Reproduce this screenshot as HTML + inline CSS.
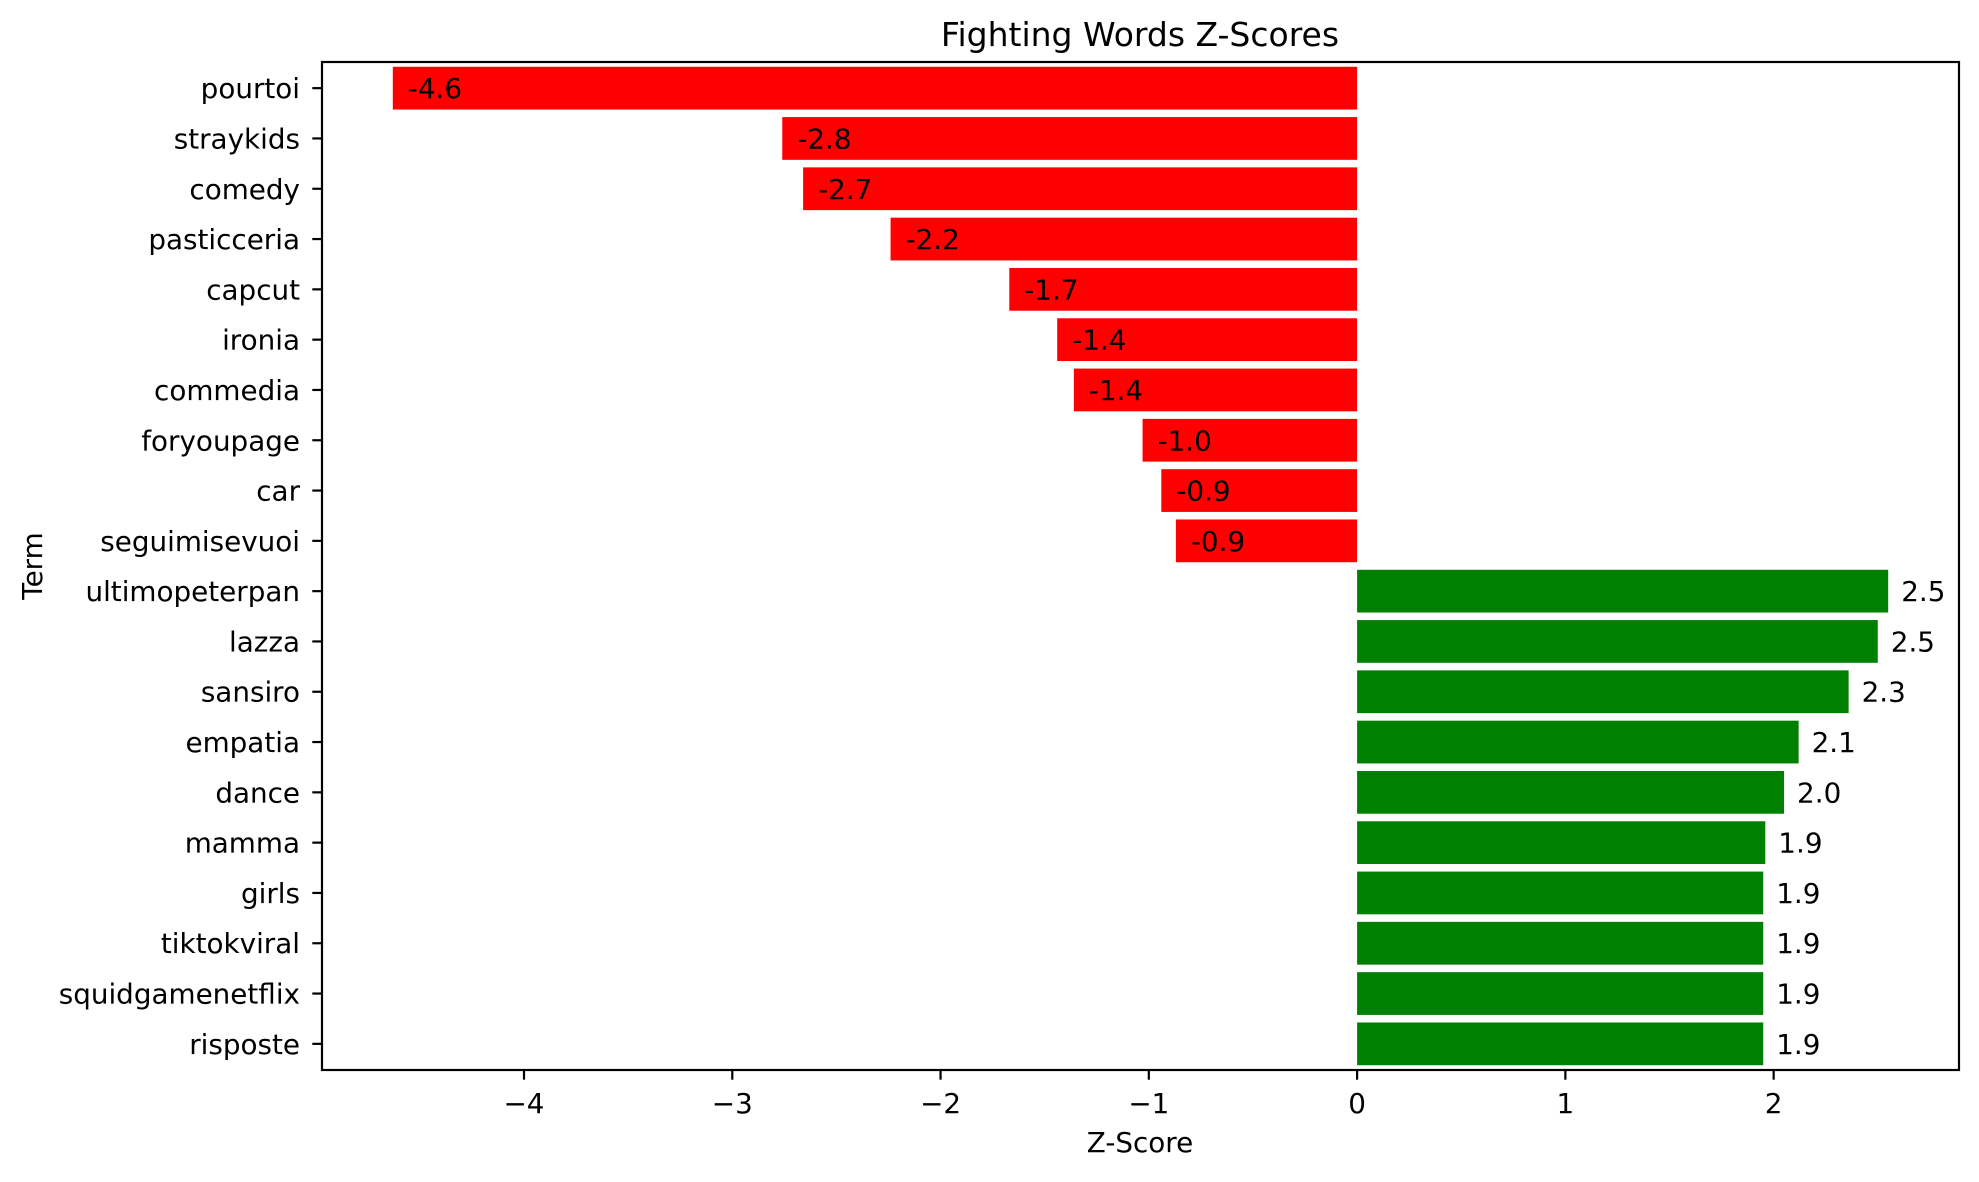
<!DOCTYPE html>
<html><head><meta charset="utf-8"><style>
html,body{margin:0;padding:0;background:#fff;}
svg text{font-family:"DejaVu Sans","Liberation Sans",sans-serif;fill:#000;}
</style></head><body>
<svg id="chart" width="1979" height="1177" xmlns="http://www.w3.org/2000/svg">
<rect width="1979" height="1177" fill="#fff"/>
<g id="bars"></g>
<g id="xaxis"></g>
<g id="yaxis"></g>
<rect x="322" y="62" width="1637" height="1008" fill="none" stroke="#000" stroke-width="2.2"/>
<text x="1140" y="46" font-size="33" text-anchor="middle">Fighting Words Z-Scores</text>
<text x="1140" y="1152" font-size="27.8" text-anchor="middle">Z-Score</text>
<text x="42" y="566" font-size="27.8" text-anchor="middle" transform="rotate(-90 42 566)">Term</text>
</svg>
<script>
const terms = ["pourtoi","straykids","comedy","pasticceria","capcut","ironia","commedia","foryoupage","car","seguimisevuoi","ultimopeterpan","lazza","sansiro","empatia","dance","mamma","girls","tiktokviral","squidgamenetflix","risposte"];
const zscores = [-4.63,-2.76,-2.66,-2.24,-1.67,-1.44,-1.36,-1.03,-0.94,-0.87,2.55,2.50,2.36,2.12,2.05,1.96,1.95,1.95,1.95,1.95];
const valueLabels = ["-4.6","-2.8","-2.7","-2.2","-1.7","-1.4","-1.4","-1.0","-0.9","-0.9","2.5","2.5","2.3","2.1","2.0","1.9","1.9","1.9","1.9","1.9"];
const xTicks = [-4,-3,-2,-1,0,1,2];
const xTickLabels = ["\u22124","\u22123","\u22122","\u22121","0","1","2"];

const NS="http://www.w3.org/2000/svg";
const L=322,R=1959,T=62,B=1070;
const xmin=-4.97,xmax=2.89;
const X=v=>L+(v-xmin)/(xmax-xmin)*(R-L);
const n=terms.length;
const ymin=-0.52,ymax=n-1+0.52;
const Y=i=>T+(i-ymin)/(ymax-ymin)*(B-T);
const bh=0.85*(Y(1)-Y(0));
function mk(tag,attrs,parent){const e=document.createElementNS(NS,tag);for(const k in attrs)e.setAttribute(k,attrs[k]);parent.appendChild(e);return e;}
const gb=document.getElementById('bars'),gx=document.getElementById('xaxis'),gy=document.getElementById('yaxis');
terms.forEach((t,i)=>{
  const v=zscores[i],x0=Math.min(X(0),X(v)),w=Math.abs(X(v)-X(0));
  const r=mk('rect',{x:x0,y:Y(i)-bh/2,width:w,height:bh,fill:v<0?'#ff0000':'#008000'},gb);
  
  
  const tx=v<0?X(v)+15:X(v)+13;
  const lb=mk('text',{x:tx,y:Y(i)+10,'font-size':'27.8'},gb);
  lb.textContent=valueLabels[i];
  
  
  const tk=mk('line',{x1:L-9.7,x2:L,y1:Y(i),y2:Y(i),stroke:'#000','stroke-width':2.2},gy);
  
  
  const tl=mk('text',{x:L-22,y:Y(i)+10,'font-size':'27.8','text-anchor':'end'},gy);
  tl.textContent=t;
  
  
});
xTicks.forEach((v,i)=>{
  const tk=mk('line',{x1:X(v),x2:X(v),y1:B,y2:B+9.7,stroke:'#000','stroke-width':2.2},gx);
  
  
  const tl=mk('text',{x:X(v),y:B+43,'font-size':'27.8','text-anchor':'middle'},gx);
  tl.textContent=xTickLabels[i];
  
  
});
</script>
</body></html>
